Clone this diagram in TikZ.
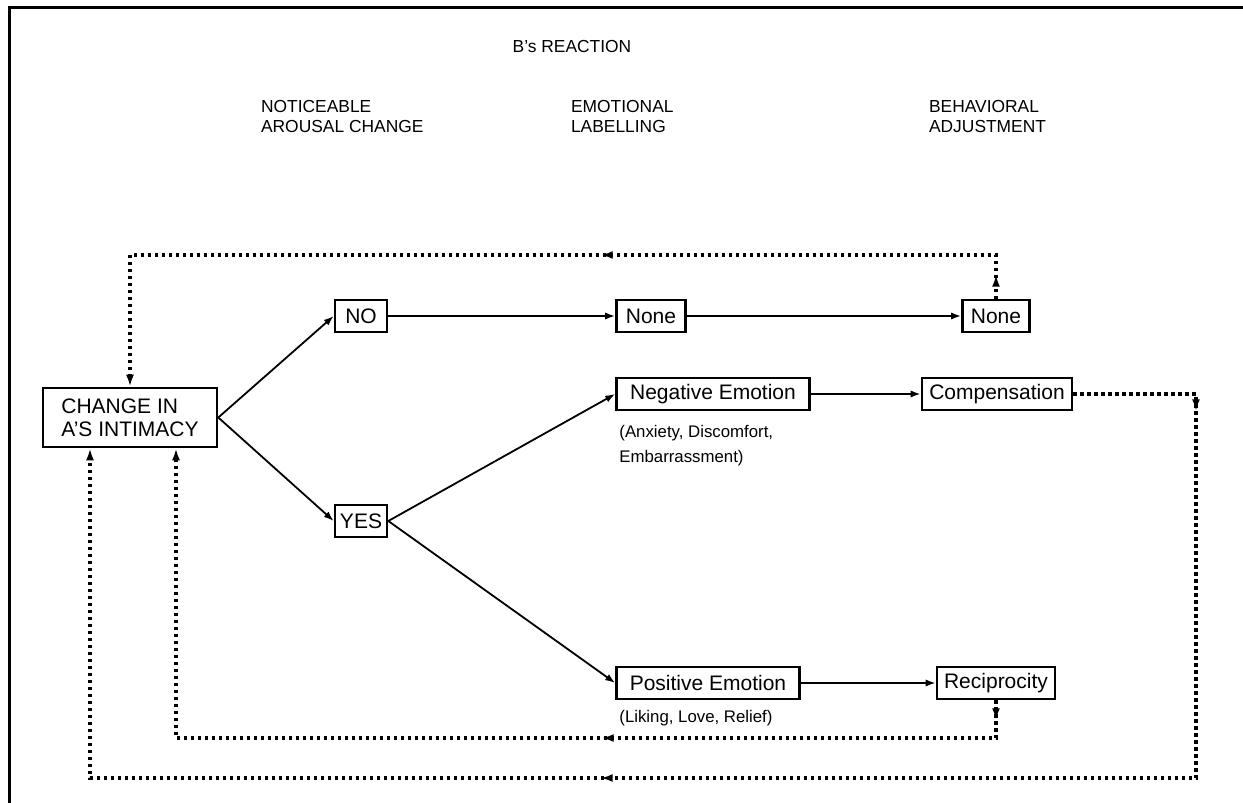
\documentclass[tikz,border=0pt]{standalone}
\usepackage{fontspec}
\setmainfont{Liberation Sans}
\usetikzlibrary{arrows.meta,decorations.markings,positioning}
\tikzset{
  box/.style={draw, line width=1.3pt, inner sep=2pt, minimum height=16pt, font=\fontsize{10.5}{11.5}\selectfont},
  head/.style={anchor=west, align=left, font=\fontsize{8.7}{10}\selectfont},
  note/.style={anchor=west, align=left, inner sep=1pt, font=\fontsize{8.4}{12.5}\selectfont},
  flow/.style={-{Latex[length=5pt,width=3.6pt]}, line width=0.9pt},
  loopline/.style={line width=1.7pt, dash pattern=on 1.6pt off 1.9pt, -{Latex[length=6pt,width=4pt]}},
  tipat/.style={postaction={decorate, decoration={markings, mark=at position #1 with {\arrow{Latex[length=6pt,width=4pt]}}}}}
}
\begin{document}
\begin{tikzpicture}[x=0.5pt, y=-0.5pt]
    \useasboundingbox (0,0) rectangle (1243,803);
    % frame
    \draw[line width=1.5pt] (9,803) -- (9,7) -- (1243,7);

    % column heads
    \node[font=\fontsize{8.7}{10}\selectfont] (title) at (572,47) {B's REACTION};
    \node[head] (hnotice) at (254,117) {NOTICEABLE\\AROUSAL CHANGE};
    \node[head] (hlabel) at (564,117) {EMOTIONAL\\LABELLING};
    \node[head] (hadjust) at (922,117) {BEHAVIORAL\\ADJUSTMENT};

    % boxes
    \node[box, minimum width=87pt, minimum height=29.5pt, align=left] (chg) at (130,417.5) {CHANGE IN\\A'S INTIMACY};
    \node[box, minimum width=26pt] (no) at (361,316) {NO};
    \node[box, minimum width=26pt] (yes) at (361,521) {YES};
    \node[box, minimum width=34.5pt] (none1) at (651,316) {None};
    \node[box, minimum width=33.5pt] (none2) at (996,316) {None};
    \node[box, minimum width=96.5pt] (neg) at (713,394) {Negative Emotion};
    \node[box, minimum width=75pt] (comp) at (997,394) {Compensation};
    \node[box, minimum width=91.5pt] (pos) at (708,683) {Positive Emotion};
    \node[box, minimum width=59pt] (recip) at (996,683) {Reciprocity};
    \node[note] (negnote) at (617,445.5) {(Anxiety, Discomfort,\\Embarrassment)};
    \node[note] (posnote) at (617,718) {(Liking, Love, Relief)};

    % forward arrows
    \draw[flow] (chg.east) -- (no.west);
    \draw[flow] (chg.east) -- (yes.west);
    \draw[flow] (no) -- (none1);
    \draw[flow] (none1) -- (none2);
    \draw[flow] (yes.east) -- (neg.west);
    \draw[flow] (yes.east) -- (pos.west);
    \draw[flow] (neg) -- (comp);
    \draw[flow] (pos) -- (recip);

    % feedback loops
    \coordinate (fbtop) at (996,255);
    \coordinate (fbinner) at (176,738);
    \coordinate (fbouter) at (1196,778);
    \draw[loopline, tipat=12pt, tipat=219.5pt] (none2.north) -- (fbtop) -| (chg.north);
    \draw[loopline, tipat=10pt, tipat=216pt] (recip.south) |- (fbinner) -- ([xshift=23pt]chg.south);
    \draw[loopline, tipat=70pt, tipat=551pt] (comp.east) -| (fbouter) -| ([xshift=-20pt]chg.south);
\end{tikzpicture}
\end{document}
